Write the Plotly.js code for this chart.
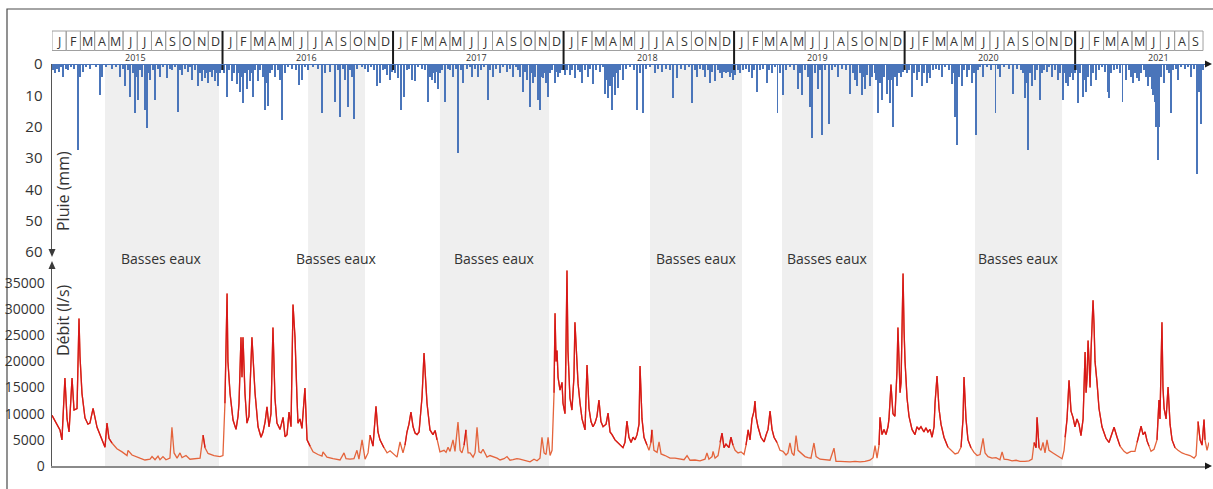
<!DOCTYPE html>
<html><head><meta charset="utf-8">
<script src="https://cdn.plot.ly/plotly-3.0.1.min.js"></script>
<style>html,body{margin:0;padding:0;background:#fff}#chart{width:1213px;height:489px}</style>
</head><body><div id="chart"></div>
<script>
// ---------- DATA ----------
// time unit: months since January 2015 (0 = 1 Jan 2015)
const monthLetters = ['J','F','M','A','M','J','J','A','S','O','N','D'];
const years = [2015, 2016, 2017, 2018, 2019, 2020, 2021];
const nMonths = 81; // Jan 2015 .. Sep 2021
const bandStart = [3.73, 18.02, 27.30, 42.08, 51.37, 64.95];
const bandEnd   = [11.75, 22.03, 34.98, 48.56, 57.78, 71.08];
const bandLabel = 'Basses eaux';
const rainTicks = [0, 10, 20, 30, 40, 50, 60];
const flowTicks = [0, 5000, 10000, 15000, 20000, 25000, 30000, 35000];

const rainT = [
0.07,0.21,0.35,0.49,0.63,0.77,0.99,1.13,1.34,1.55,1.83,1.97,2.18,2.39,2.67,3.10,3.38,3.52,3.80,4.22,4.50,4.79,5.00,5.14,5.35,5.49,5.70,5.84,5.98,6.05,6.19,6.33,6.54,6.69,6.83,6.90,7.11,7.25,7.46,7.60,7.81,8.09,8.30,8.44,8.66,8.87,9.01,9.15,9.36,9.57,9.71,9.85,10.06,10.27,10.41,10.56,10.70,10.77,10.91,10.98,11.12,11.26,11.33,11.47,11.54,11.68,11.82,11.96,
12.10,12.31,12.46,12.67,12.81,13.02,13.16,13.23,13.37,13.44,13.58,13.72,13.86,13.93,14.07,14.14,14.29,14.50,14.64,14.85,14.99,15.06,15.20,15.34,15.48,15.69,15.90,16.04,16.19,16.40,16.61,16.89,17.17,17.38,17.59,17.80,18.01,18.37,18.72,19.00,19.21,19.56,19.92,20.13,20.27,20.48,20.62,20.83,20.97,21.11,21.25,21.46,21.82,22.03,22.24,22.45,22.66,22.87,23.08,23.29,23.43,23.57,23.79,23.93,
24.14,24.35,24.56,24.77,24.98,25.12,25.33,25.55,25.76,26.04,26.25,26.46,26.60,26.74,26.88,26.95,27.09,27.16,27.30,27.44,27.66,27.87,28.01,28.22,28.43,28.57,28.78,28.92,29.20,29.41,29.56,29.77,29.98,30.19,30.40,30.68,30.82,31.03,31.24,31.53,31.74,32.02,32.23,32.44,32.65,32.79,32.93,33.14,33.29,33.43,33.64,33.71,33.85,33.99,34.20,34.34,34.41,34.55,34.69,34.76,34.91,35.05,35.19,35.40,35.54,35.61,35.75,35.89,
36.10,36.24,36.45,36.59,36.80,37.02,37.16,37.30,37.51,37.72,37.86,38.07,38.28,38.56,38.78,38.92,39.06,39.13,39.27,39.41,39.48,39.62,39.76,39.83,39.97,40.18,40.39,40.67,40.96,41.17,41.38,41.59,41.80,42.08,42.44,42.65,42.93,43.21,43.49,43.70,43.98,44.26,44.55,44.83,45.04,45.25,45.39,45.60,45.81,45.95,46.17,46.31,46.45,46.66,46.87,47.01,47.15,47.29,47.43,47.57,47.71,47.85,47.92,48.07,48.28,
48.42,48.63,48.84,49.05,49.26,49.40,49.61,49.82,50.04,50.32,50.46,50.67,50.88,51.08,51.23,51.44,51.65,51.93,52.22,52.50,52.64,52.78,52.99,53.20,53.34,53.48,53.69,53.91,54.05,54.19,54.40,54.68,54.89,55.10,55.31,55.59,55.87,56.16,56.37,56.51,56.65,56.86,57.00,57.14,57.21,57.35,57.56,57.70,57.92,57.99,58.13,58.27,58.41,58.55,58.76,58.83,58.97,59.11,59.18,59.32,59.46,59.61,59.75,59.89,
60.17,60.31,60.52,60.66,60.87,61.01,61.22,61.36,61.57,61.72,61.79,62.00,62.21,62.42,62.63,62.84,63.12,63.34,63.48,63.55,63.69,63.83,64.04,64.18,64.39,64.53,64.74,64.88,65.02,65.17,65.31,65.52,65.80,66.08,66.39,66.57,66.71,67.00,67.35,67.63,67.91,68.19,68.33,68.47,68.61,68.68,68.82,68.96,69.18,69.32,69.53,69.67,69.81,70.02,70.16,70.37,70.58,70.79,70.93,71.15,71.29,71.36,71.50,71.64,71.78,71.85,71.99,
72.06,72.20,72.34,72.55,72.62,72.77,72.91,73.12,73.26,73.47,73.68,73.89,74.10,74.31,74.38,74.52,74.73,74.94,75.15,75.36,75.58,75.79,75.93,76.07,76.21,76.36,76.50,76.64,76.85,76.99,77.13,77.27,77.41,77.48,77.62,77.69,77.83,77.90,78.04,78.26,78.47,78.61,78.75,78.89,79.10,79.24,79.45,79.73,79.94,80.15,80.37,80.58,80.72,80.79,80.86,81.00
];
const rainMM = [
2,3,1.5,2.5,1,4,1.5,2,1,1.5,27.5,4,2.5,1,1.5,1,10,4,1,1.5,1,4,1.5,7,2,10.5,3,15.7,4,11.5,2,4,14.7,20.5,3,5,2,11.5,1.5,4,1,4.5,1.5,2,1,15.4,2,3.5,1.5,2.5,1,5,2,7,3,5.5,2,4.5,3,6,2.5,4,2,5.5,3,7,3,2,
3,10.5,2,5.5,3,6.5,3,9,4,12.5,3,8,2,5.5,3,10.5,2,5.5,2,4,14.7,6,13.5,3,2,4,2,5,18,3,1,1.5,2,6.7,5,1,2,1,1.5,15.7,3,2.5,12,2,17,1.5,5,13.7,2,4,17.4,1.5,1,1.5,2.5,1,2,7,6,2,1.5,3.5,5,2.5,
3,4.5,14.7,10.5,2,1.5,5,5.5,1,1.5,2,12,4,5,3,6,2.5,8,3,2,12,1.5,2,4,1.5,28.5,2,6,1.5,1,4,1.5,4,2,1,11.5,2,4,1.5,3,1,2.5,1.5,4,1,2,4,9,2.5,5,13.7,3,6,4,11.5,14.7,4,4.5,3,6,10.5,3,2,6,2.5,4,3,2,
3.5,2,3.5,2,4.5,2,2.5,6,2,4,1.5,6.5,2,2.5,1,9.7,5,11,7,14.7,4,10,3,7.5,2,5,1.5,1,2,14.7,3,15.7,1.5,1,3,1.5,2.5,1.5,2,11,4.5,1.5,2,1,12.5,2,4,1.5,2,4,2,6,2.5,5.5,2,3,4.5,2.5,3,2.5,4,3,5,3.5,2,
3,2,1.5,2.5,4.5,2,9,2,1.5,6,2,3,1,15.7,3,10,2,1,2,8,3,10,2,4,13.7,23.6,3,8,2,22.7,2,19,2,1,4,1.5,2,9.7,3,5,7,3,10,4,8,3.5,7,4,3,5,15.7,6,11.5,4,9.5,5,12.5,5,20,4,7,3,4,2.5,
3,2,10.5,3,5,2.5,7,3,6,3,4.5,2,1.5,2,4,1,2,6.5,3,17,26,4,7,2,4,2,6,3,22.7,2,1,4,1,2,15.7,1.5,4,1,1.5,9.7,1.5,2,3,11,6,27.5,3,7,5,2,11.5,3,2,2.5,1,4,2,5,3,11.5,3,6,7,4,3,5,3,
2,12.5,3,10.5,5,9,4,7,3,5,2,1,2.5,9,11,3,2,1.5,3,12,5,2,4,6,3,4.5,5.5,3,2,4,7,4,8,10,12,20,30.7,20,4,6,2,3,15.7,2,1.5,5,1,1.5,1,4,1.5,35,9,3,19,2
];

const flowT = [
0,0.21,0.42,0.56,0.70,0.91,1.06,1.20,1.41,1.55,1.76,1.90,1.97,2.11,2.32,2.53,2.67,2.89,3.17,3.38,3.52,3.73,3.87,4.01,4.22,4.57,4.93,5.28,5.35,5.63,6.19,6.54,6.90,7.04,7.25,7.46,7.60,7.81,8.02,8.30,8.44,8.59,8.80,9.01,9.15,9.43,9.71,10.13,10.42,10.63,10.77,10.98,11.40,11.82,
12.03,12.17,12.32,12.38,12.53,12.74,12.95,13.09,13.16,13.30,13.37,13.44,13.58,13.72,13.86,14.07,14.29,14.50,14.71,14.85,15.00,15.13,15.27,15.41,15.55,15.69,15.83,16.05,16.26,16.40,16.54,16.68,16.82,16.96,17.10,17.24,17.31,17.45,17.59,17.80,17.95,18.16,18.37,18.72,19.00,19.07,19.35,19.78,20.27,20.55,20.69,20.97,21.25,21.46,21.60,21.82,22.03,22.24,22.38,22.59,22.80,22.94,23.08,23.36,23.58,23.79,
24.07,24.28,24.49,24.70,24.84,24.98,25.12,25.26,25.41,25.55,25.69,25.83,25.97,26.04,26.18,26.32,26.39,26.60,26.81,26.96,27.09,27.30,27.59,27.73,27.87,28.01,28.22,28.36,28.57,28.72,28.85,29.00,29.13,29.28,29.42,29.63,29.77,29.91,30.05,30.19,30.33,30.61,30.82,31.03,31.32,31.53,31.81,32.02,32.23,32.44,32.72,32.93,33.29,33.64,33.92,34.13,34.34,34.48,34.63,34.77,34.91,35.05,35.19,35.33,35.40,35.47,35.54,35.61,35.75,35.89,35.96,
36.10,36.17,36.24,36.31,36.45,36.59,36.73,36.80,36.95,37.02,37.16,37.30,37.51,37.65,37.79,37.93,38.07,38.21,38.35,38.49,38.63,38.78,38.99,39.13,39.27,39.41,39.62,39.83,40.04,40.18,40.32,40.46,40.60,40.75,40.89,41.03,41.17,41.31,41.38,41.52,41.66,41.87,42.01,42.15,42.22,42.36,42.58,42.72,42.86,43.14,43.49,43.84,44.19,44.48,44.69,44.90,45.25,45.60,45.95,46.09,46.23,46.45,46.52,46.66,46.87,47.01,47.15,47.29,47.43,47.64,47.78,47.92,
48.07,48.28,48.49,48.70,48.84,48.99,49.12,49.26,49.40,49.47,49.54,49.68,49.89,50.11,50.25,50.39,50.53,50.67,50.81,51.02,51.23,51.44,51.65,51.79,51.93,52.07,52.22,52.36,52.50,52.71,52.99,53.20,53.41,53.62,53.77,54.05,54.40,54.75,55.03,55.17,55.45,55.81,56.16,56.51,56.86,57.21,57.56,57.78,57.92,58.06,58.20,58.27,58.41,58.55,58.69,58.83,58.90,59.04,59.18,59.32,59.46,59.53,59.61,59.68,59.75,59.82,59.89,59.96,
60.03,60.17,60.31,60.52,60.73,60.87,61.01,61.15,61.36,61.50,61.64,61.79,61.93,62.07,62.14,62.28,62.42,62.56,62.77,63.05,63.34,63.55,63.76,63.97,64.11,64.18,64.32,64.46,64.67,64.88,65.10,65.31,65.52,65.66,65.87,66.15,66.43,66.71,66.86,67.00,67.28,67.56,67.84,68.12,68.47,68.75,68.97,69.11,69.25,69.32,69.46,69.60,69.74,69.88,70.02,70.16,70.44,70.72,70.93,71.08,71.22,71.29,71.43,71.57,71.71,71.85,71.99,
72.13,72.27,72.41,72.56,72.70,72.77,72.84,72.91,72.98,73.05,73.12,73.19,73.26,73.33,73.40,73.54,73.68,73.89,74.17,74.38,74.52,74.74,74.95,75.16,75.44,75.65,75.93,76.21,76.36,76.50,76.64,76.78,76.92,77.06,77.20,77.34,77.55,77.76,77.90,77.97,78.11,78.18,78.26,78.40,78.54,78.68,78.82,79.03,79.24,79.52,79.80,80.08,80.37,80.51,80.65,80.79,80.93,81.07,81.14,81.28,81.42
];
const flowQ = [
9700,8600,7500,6900,5000,16800,9000,6500,16800,10700,11000,28200,21000,13900,9200,8000,8200,11000,7400,6000,5000,3600,8200,5300,4400,3300,2700,2000,3000,2100,1500,1150,1300,1800,1200,1900,1200,1800,1200,1500,7400,2500,1500,2500,1600,2000,1300,1400,1500,5900,3500,2400,2000,1800,
2000,12000,33000,20000,13900,8800,7000,9500,12000,24600,17000,24600,13900,8200,9500,24600,13900,7500,5500,6500,8500,11300,7500,10000,26500,13000,8200,7000,9300,5600,6000,10300,7500,30900,24600,13000,8200,9000,7200,14900,5000,3800,2700,2200,1900,2700,1700,1400,1150,2500,1400,1300,1400,3000,1300,5000,1300,2500,5900,3800,11400,6500,5000,3500,2500,2900,
2200,1700,4600,2500,4000,6500,8000,10300,7500,6300,6000,6500,11000,13200,21600,14000,12000,6900,6000,6800,5000,2700,3000,2600,3600,2800,5000,2800,8400,3000,2500,4000,6900,2500,2500,1700,2500,7400,2700,2500,3200,1700,2000,1800,1500,1150,1400,1800,1100,1200,1400,1300,1000,800,1300,1000,1500,5500,2500,2200,5500,2000,3000,14000,29200,20000,22100,17000,14500,16000,12000,
10000,20000,37400,22000,13000,10700,17000,27500,18000,15800,12000,9000,6900,19300,11000,8500,7500,8200,9500,12600,8500,7500,8000,10100,6500,6000,5000,4400,3800,3500,4500,8600,5500,4500,5500,5000,6000,8000,19100,9000,5500,4000,3000,4500,6900,3000,2600,4600,2300,2000,1500,1500,1300,1200,2000,1100,1150,1000,1300,2500,1300,1800,2800,1500,2000,4500,6300,3500,4200,3500,5500,4000,
3000,2500,2700,2200,4000,6900,5000,9000,10500,12400,9500,7500,5500,4600,6000,7000,10500,7000,5500,4500,3000,2800,2100,2500,4400,2500,2000,5800,3000,2500,1800,1600,1500,4400,1800,1300,1200,1100,3400,900,900,800,800,900,800,900,1100,1600,3900,1500,4000,9300,6000,7000,6000,7500,9000,15600,10000,9500,18000,26500,20000,14000,16000,25000,36800,26000,
20000,13000,9500,7000,6000,7500,7000,7500,6500,7300,6500,7000,5500,7500,12000,17200,11000,8000,5500,3600,2800,2300,2500,3600,9000,17000,9000,5000,3500,2600,2000,2200,5300,2500,1800,1500,1600,1200,2700,1300,1200,1000,1100,900,900,1000,1300,4500,3500,9300,3500,3000,4500,2500,5000,3000,2500,2000,1500,1400,3000,5500,9000,16400,10500,9300,7500,
9000,8000,5800,9000,21800,14000,17000,24000,20000,15000,22000,28000,31700,27000,20000,16000,11000,7500,5300,4500,5500,7400,5500,3800,2800,2400,2800,2800,4500,6000,7600,6000,6500,4800,3800,2800,3200,5000,12600,9000,27500,15000,11000,9000,15100,8000,5000,3500,3000,2500,2200,2000,1500,2000,8500,5000,4000,8900,5000,3000,4500
];

// ---------- LAYOUT GEOMETRY ----------
const W = 1213, H = 489, ML = 52, MR = 4, MT = 64, MB = 23;
const PW = W - ML - MR, PH = H - MT - MB;
const px = v => (v - ML) / PW;          // pixel x -> paper x
const py = v => (H - MB - v) / PH;      // pixel y -> paper y
const FONT = 'Open Sans, Noto Sans, sans-serif';
const TXT = '#333333';

function tri(pts) {
  return 'M ' + pts.map(p => px(p[0]).toFixed(5) + ' ' + py(p[1]).toFixed(5)).join(' L ') + ' Z';
}

const shapes = [];
const annotations = [];

// frame
shapes.push({type:'rect', xref:'paper', yref:'paper', x0:px(7), x1:px(1240), y0:py(9), y1:py(520),
  line:{color:'#4a4a4a', width:1.2}, fillcolor:'rgba(0,0,0,0)', layer:'below'});

// low-water bands
bandStart.forEach((s, i) => {
  shapes.push({type:'rect', xref:'x', yref:'paper', x0:s, x1:bandEnd[i], y0:0, y1:1,
    fillcolor:'#efefef', line:{width:0}, layer:'below'});
  annotations.push({xref:'x', yref:'paper', x:(s + bandEnd[i]) / 2, y:py(258), text:bandLabel,
    showarrow:false, font:{family:FONT, size:14, color:TXT}, xanchor:'center', yanchor:'middle'});
});

// month strip
for (let i = 0; i < nMonths; i++) {
  shapes.push({type:'rect', xref:'x', yref:'paper', x0:i, x1:i + 1, y0:py(50.5), y1:py(31),
    line:{color:'#a0a0a0', width:1}, fillcolor:'rgba(0,0,0,0)'});
  annotations.push({xref:'x', yref:'paper', x:i + 0.5, y:py(41), text:monthLetters[i % 12],
    showarrow:false, font:{family:FONT, size:12.5, color:TXT}, xanchor:'center', yanchor:'middle'});
}
years.forEach((yr, k) => {
  annotations.push({xref:'x', yref:'paper', x:k * 12 + 5.9, y:py(57.5), text:String(yr),
    showarrow:false, font:{family:FONT, size:9, color:TXT}, xanchor:'center', yanchor:'middle'});
  if (k > 0) {
    shapes.push({type:'line', xref:'x', yref:'paper', x0:k * 12, x1:k * 12, y0:py(70), y1:py(31),
      line:{color:'#1a1a1a', width:2}});
  }
});

// rain baseline
shapes.push({type:'line', xref:'paper', yref:'y2', x0:0, x1:px(1206), y0:0, y1:0,
  line:{color:'#4a75ba', width:2}});

// arrowheads
shapes.push({type:'path', xref:'paper', yref:'paper', path:tri([[52,257],[48.5,249],[55.5,249]]),
  fillcolor:'#3a3a3a', line:{width:0}});
shapes.push({type:'path', xref:'paper', yref:'paper', path:tri([[52,261],[48.5,269],[55.5,269]]),
  fillcolor:'#3a3a3a', line:{width:0}});
shapes.push({type:'path', xref:'paper', yref:'paper', path:tri([[1212,64],[1205,60.5],[1205,67.5]]),
  fillcolor:'#1a1a1a', line:{width:0}});
shapes.push({type:'path', xref:'paper', yref:'paper', path:tri([[1212,466],[1205,462.5],[1205,469.5]]),
  fillcolor:'#1a1a1a', line:{width:0}});

// axis titles (drawn inside, next to the axes)
annotations.push({xref:'paper', yref:'paper', x:px(63), y:py(191), text:'Pluie (mm)', textangle:-90,
  showarrow:false, font:{family:FONT, size:16, color:TXT}, xanchor:'center', yanchor:'middle'});
annotations.push({xref:'paper', yref:'paper', x:px(63), y:py(320), text:'Débit (l/s)', textangle:-90,
  showarrow:false, font:{family:FONT, size:16, color:TXT}, xanchor:'center', yanchor:'middle'});

// ---------- TRACES ----------
const HIGH = 3500;
const flowHigh = flowQ.map(v => (v >= HIGH ? v : null));

const traces = [
  {type:'bar', x:rainT, y:rainMM, xaxis:'x', yaxis:'y2', width:0.085,
   marker:{color:'#4a75ba', line:{width:0}}, hoverinfo:'x+y', name:'Pluie'},
  {type:'scatter', mode:'lines', x:flowT, y:flowQ, xaxis:'x', yaxis:'y',
   line:{color:'#e4643c', width:1.3}, name:'Débit'},
  {type:'scatter', mode:'lines', x:flowT, y:flowHigh, xaxis:'x', yaxis:'y', connectgaps:false,
   line:{color:'#d71818', width:1.3}, name:'Débit (fort)', hoverinfo:'skip'}
];

const layout = {
  width:W, height:H,
  margin:{l:ML, r:MR, t:MT, b:MB, pad:0},
  paper_bgcolor:'#ffffff', plot_bgcolor:'rgba(0,0,0,0)',
  showlegend:false,
  font:{family:FONT, color:TXT},
  bargap:0,
  xaxis:{domain:[0,1], range:[0, 81.42], showgrid:false, zeroline:false, showticklabels:false,
    ticks:'', showline:true, linecolor:'#8a8a8a', linewidth:2, anchor:'y', fixedrange:true},
  yaxis:{domain:[0, py(265)], range:[0, 38440], tickvals:flowTicks, ticktext:flowTicks.map(String),
    showgrid:false, zeroline:false, ticks:'', showline:true, linecolor:'#555555', linewidth:1.5,
    tickfont:{family:FONT, size:14, color:TXT}, ticklabelstandoff:3, anchor:'x'},
  yaxis2:{domain:[py(252), 1], range:[60, 0], tickvals:rainTicks, ticktext:rainTicks.map(String),
    showgrid:false, zeroline:false, ticks:'', showline:true, linecolor:'#555555', linewidth:1.5,
    tickfont:{family:FONT, size:15, color:TXT}, ticklabelstandoff:5, anchor:'x'},
  shapes:shapes,
  annotations:annotations
};

Plotly.newPlot('chart', traces, layout, {displayModeBar:false, staticPlot:true});
</script>
</body></html>
